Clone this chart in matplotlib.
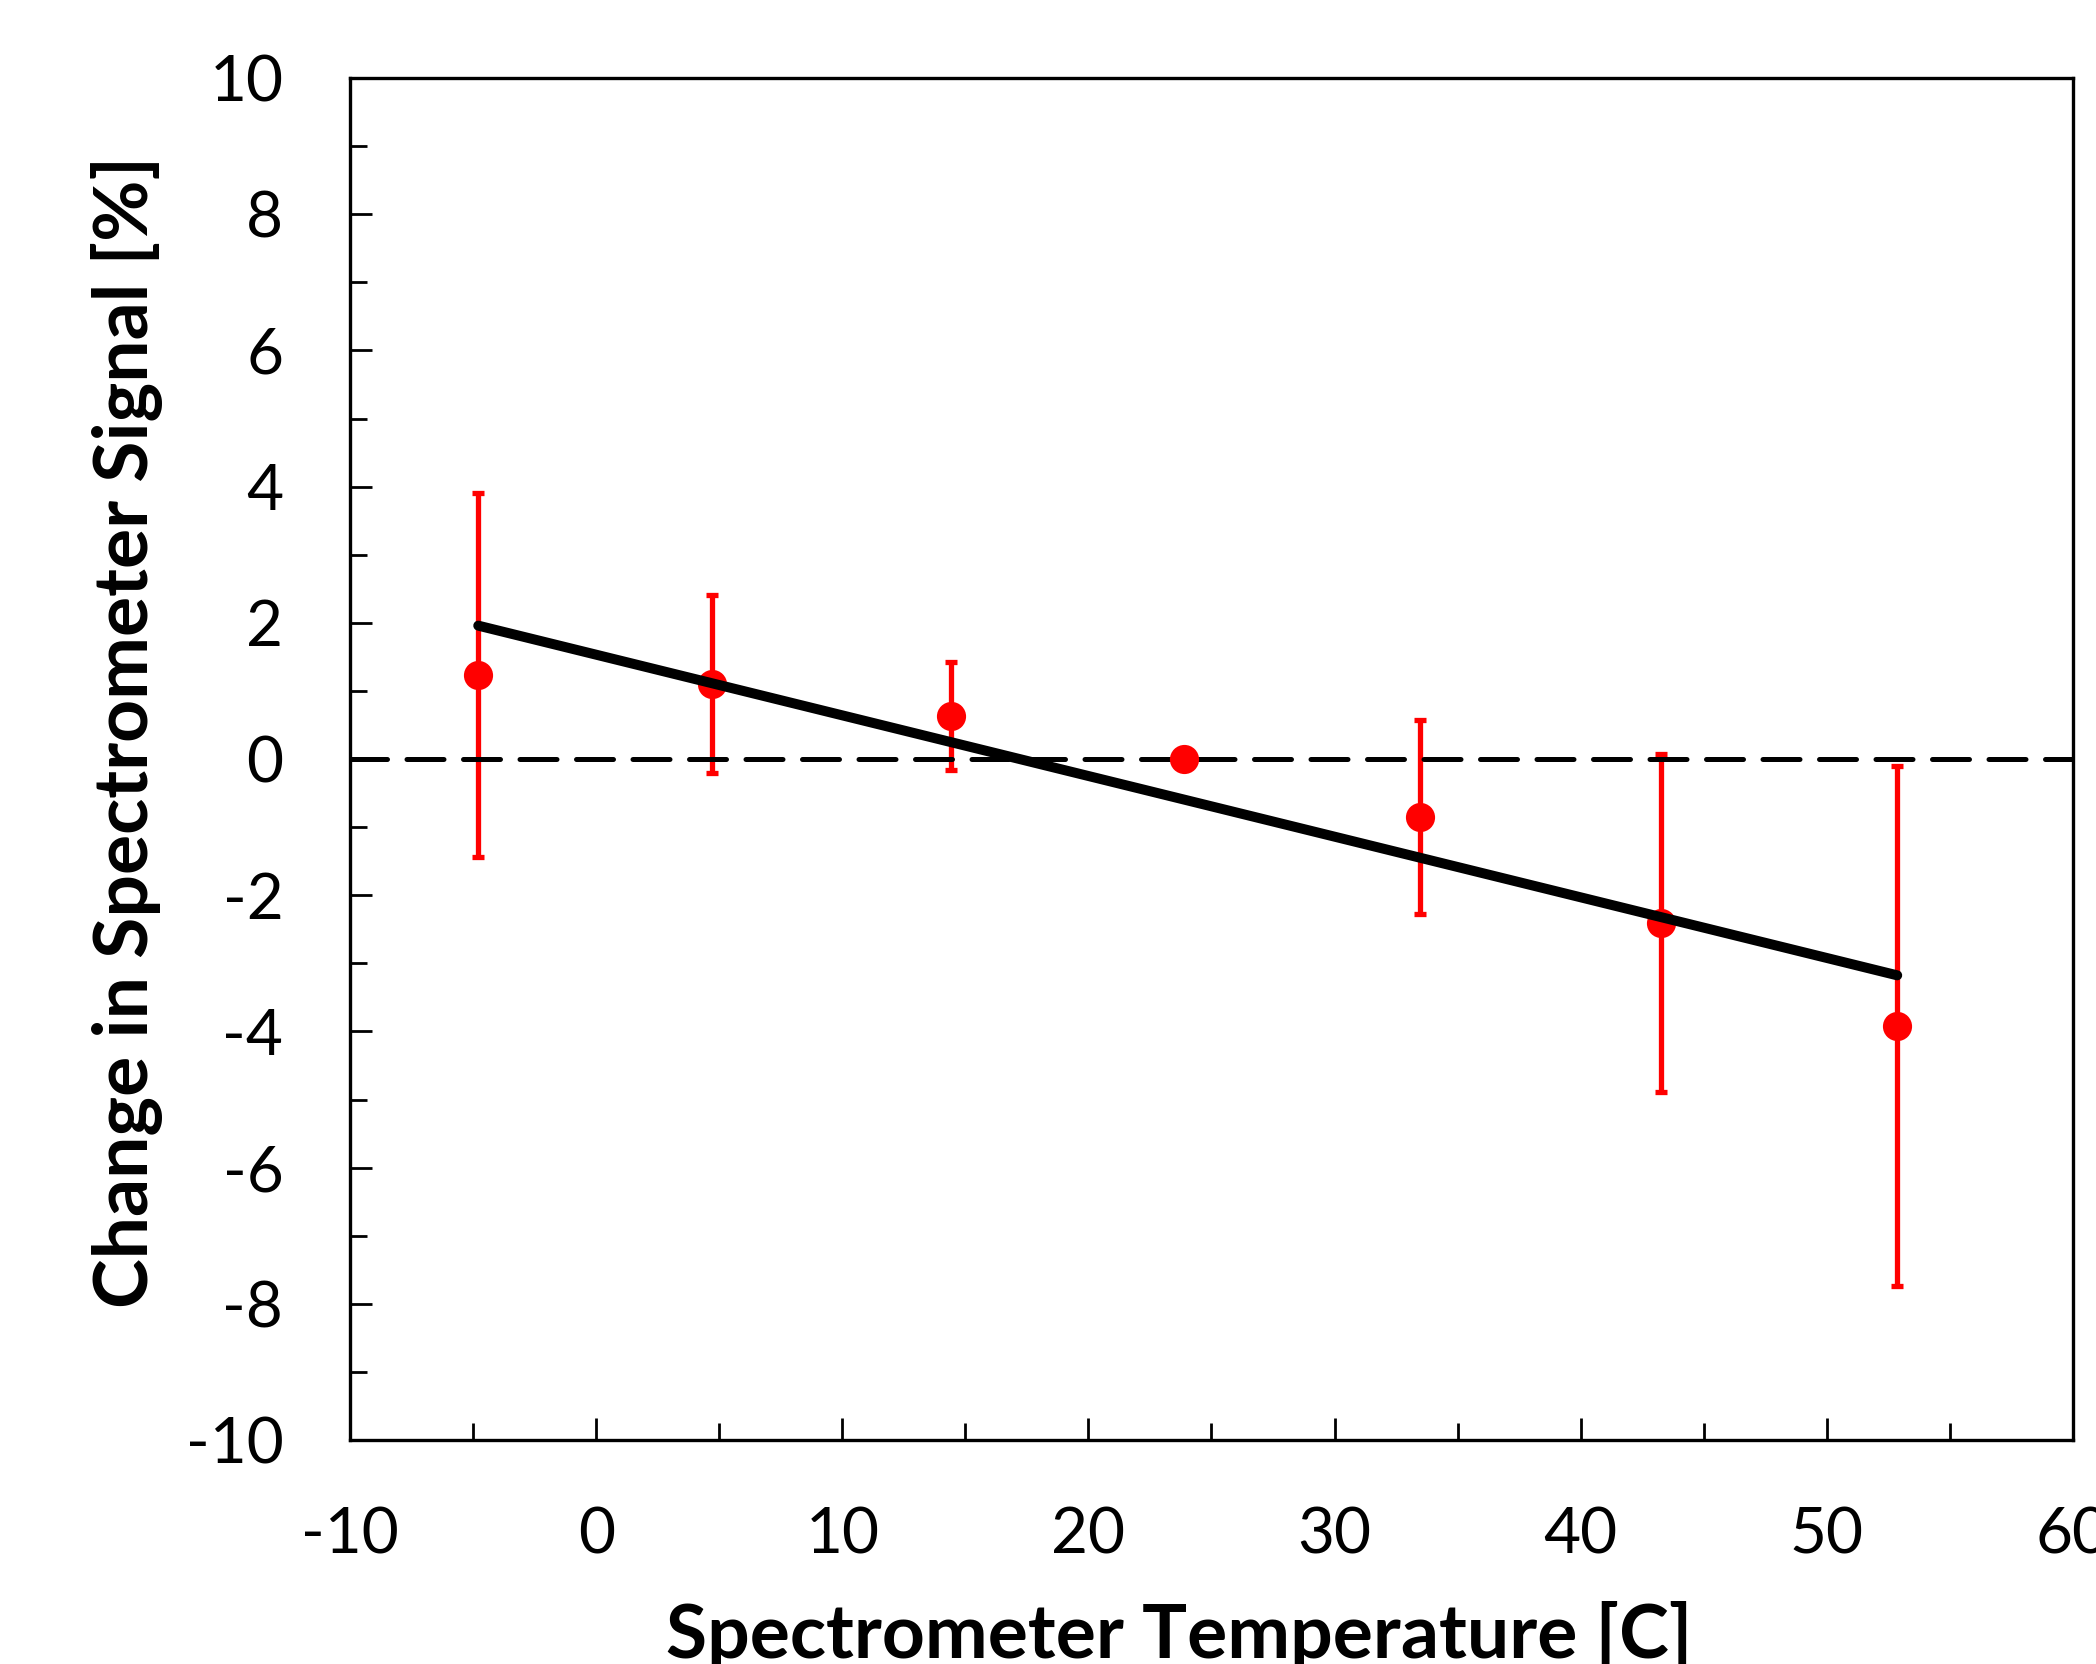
import numpy as np
import matplotlib
matplotlib.use("Agg")
import matplotlib.pyplot as plt
from matplotlib.ticker import MultipleLocator

# Data
temperature = [-4.79, 4.70, 14.41, 23.89, 33.46, 43.26, 52.86]
signal_change = [1.23, 1.10, 0.63, 0.00, -0.85, -2.41, -3.92]
signal_err = [2.67, 1.31, 0.79, 0.0, 1.43, 2.48, 3.82]
x_ticks = [-10, 0, 10, 20, 30, 40, 50, 60]
y_ticks = [-10, -8, -6, -4, -2, 0, 2, 4, 6, 8, 10]

plt.rcParams['font.family'] = ['Lato', 'DejaVu Sans']
plt.rcParams['axes.unicode_minus'] = False

fig = plt.figure(figsize=(10.48, 8.32), dpi=200)
ax = fig.add_axes([0.1670, 0.1346, 0.8220, 0.8185])

# error bars (below everything else)
ax.errorbar(temperature, signal_change, yerr=signal_err, fmt='none',
            ecolor='#FF0000', elinewidth=1.9, capsize=2.3, capthick=1.9, zorder=1)

# zero reference line
ax.plot([-10, 60], [0, 0], color='black', lw=1.8, dashes=(7.4, 3.9),
        dash_capstyle='round', zorder=2)

# data markers
ax.plot(temperature, signal_change, 'o', color='#FF0000', markersize=10.5,
        markeredgewidth=0, zorder=3)

# linear fit
slope, intercept = np.polyfit(temperature, signal_change, 1)
fx = np.array([temperature[0], temperature[-1]])
ax.plot(fx, slope * fx + intercept, color='black', lw=3.6,
        solid_capstyle='round', zorder=4)

ax.set_xlim(-10, 60)
ax.set_ylim(-10, 10)
ax.set_xticks(x_ticks)
ax.set_yticks(y_ticks)
ax.xaxis.set_minor_locator(MultipleLocator(5))
ax.yaxis.set_minor_locator(MultipleLocator(1))
ax.tick_params(which='both', direction='in', top=False, right=False)
ax.tick_params(which='major', length=7.9, width=1.0, labelsize=23, pad=24)
ax.tick_params(which='minor', length=6.1, width=1.0)
for s in ax.spines.values():
    s.set_linewidth(1.2)

ax.set_xlabel('Spectrometer Temperature [C]', fontsize=27, fontweight='bold', labelpad=13)
ax.set_ylabel('Change in Spectrometer Signal [%]', fontsize=27, fontweight='bold', labelpad=8)
ax.xaxis.label.set_x(0.481)
ax.yaxis.label.set_y(0.5196)

fig.savefig('out.png', dpi=200)
